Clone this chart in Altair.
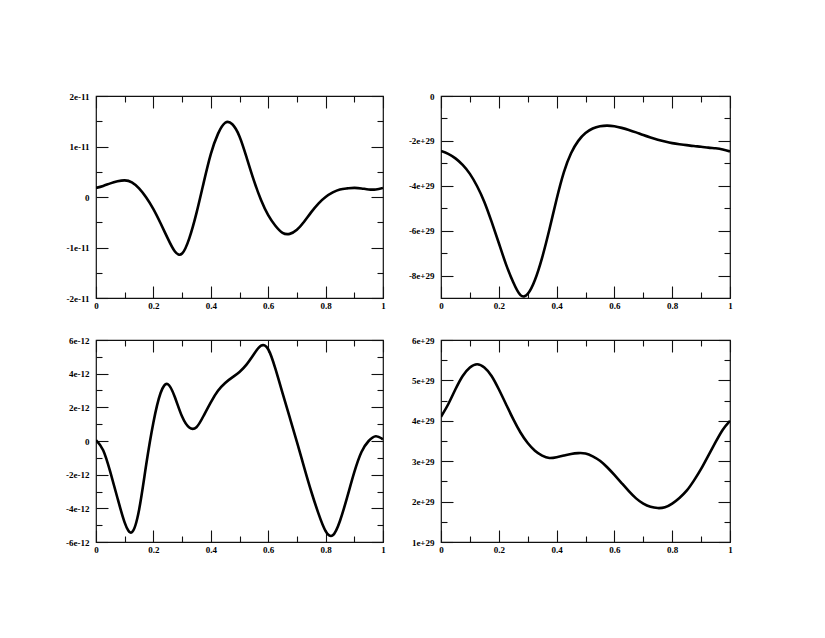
import altair as alt
import pandas as pd

# ---------------- data ----------------
# common x grid for all panels
xs = [0, 0.025, 0.05, 0.075, 0.1, 0.125, 0.15, 0.175, 0.2, 0.225, 0.25, 0.275, 0.3,
      0.325, 0.35, 0.375, 0.4, 0.425, 0.45, 0.475, 0.5, 0.525, 0.55, 0.575, 0.6,
      0.625, 0.65, 0.675, 0.7, 0.725, 0.75, 0.775, 0.8, 0.825, 0.85, 0.875, 0.9,
      0.925, 0.95, 0.975, 1.0]

# Top-left panel, y in units of 1e-11
tl_y = [0.18, 0.22, 0.27, 0.31, 0.33, 0.29, 0.17, -0.01, -0.24, -0.52, -0.82, -1.08, -1.12,
        -0.82, -0.32, 0.28, 0.85, 1.25, 1.47, 1.44, 1.2, 0.78, 0.33, -0.06, -0.36,
        -0.57, -0.71, -0.73, -0.65, -0.49, -0.30, -0.13, 0.0, 0.09, 0.15, 0.17, 0.18,
        0.17, 0.15, 0.15, 0.18]
tl_unit = 1e-11

# Top-right panel, y in units of 1e29
tr_y = [-2.45, -2.58, -2.78, -3.07, -3.47, -4.02, -4.72, -5.6, -6.55, -7.5, -8.3, -8.87, -8.82,
        -8.2, -7.2, -5.95, -4.6, -3.4, -2.55, -2.0, -1.65, -1.45, -1.35, -1.32, -1.35, -1.42,
        -1.51, -1.62, -1.74, -1.85, -1.95, -2.03, -2.10, -2.15, -2.19, -2.23, -2.26, -2.30, -2.33,
        -2.38, -2.47]
tr_unit = 1e29

# Bottom-left panel, y in units of 1e-12
bl_y = [0.05, -0.55, -1.85, -3.4, -4.85, -5.42, -4.1, -1.4, 1.1, 2.85, 3.38, 2.6,
        1.45, 0.8, 0.82, 1.5, 2.3, 2.98, 3.45, 3.78, 4.1, 4.55, 5.15, 5.66,
        5.45, 4.3, 2.85, 1.4, -0.05, -1.55, -3.0, -4.3, -5.35, -5.6, -4.75, -3.35,
        -1.85, -0.65, 0.0, 0.28, 0.1]
bl_unit = 1e-12

# Bottom-right panel, y in units of 1e29
br_y = [4.1, 4.41, 4.78, 5.11, 5.32, 5.4, 5.32, 5.11, 4.78, 4.41, 4.04, 3.71, 3.45, 3.26,
        3.14, 3.08, 3.1, 3.14, 3.18, 3.2, 3.19, 3.12, 3.01, 2.85, 2.66, 2.46, 2.26,
        2.08, 1.95, 1.87, 1.84, 1.86, 1.95, 2.09, 2.27, 2.52, 2.81, 3.14, 3.47, 3.78, 4.0]
br_unit = 1e29

# axis ticks
x_major = [0, 0.2, 0.4, 0.6, 0.8, 1]
x_minor = [0.1, 0.3, 0.5, 0.7, 0.9]

tl_dom = [-2e-11, 2e-11]
tl_major = [-2e-11, -1e-11, 0, 1e-11, 2e-11]
tl_minor = [-1.5e-11, -5e-12, 5e-12, 1.5e-11]

tr_dom = [-9e29, 0]
tr_major = [-8e29, -6e29, -4e29, -2e29, 0]
tr_minor = [-7e29, -5e29, -3e29, -1e29]

bl_dom = [-6e-12, 6e-12]
bl_major = [-6e-12, -4e-12, -2e-12, 0, 2e-12, 4e-12, 6e-12]
bl_minor = [-5e-12, -3e-12, -1e-12, 1e-12, 3e-12, 5e-12]

br_dom = [1e29, 6e29]
br_major = [1e29, 2e29, 3e29, 4e29, 5e29, 6e29]
br_minor = [1.5e29, 2.5e29, 3.5e29, 4.5e29, 5.5e29]

# ---------------- styling ----------------
FONT = "Liberation Serif"
MAJ = 12
MIN = 6


def axis(orient, values, size, labels, pad=3):
    kw = dict(orient=orient, values=values, tickSize=size, offset=-size, domain=False,
              grid=False, title=None, ticks=True, tickColor="#111", tickWidth=1.1,
              labels=labels)
    if labels:
        kw.update(labelFont=FONT, labelFontSize=9, labelFontWeight="bold", labelColor="black",
                  labelPadding=pad, labelFlush=False, labelOverlap=False, labelBound=False,
                  labelExpr="'' + datum.value")
    return alt.Axis(**kw)


def panel(xv, ys, unit, dom, y_major, y_minor, w, h):
    df = pd.DataFrame({"x": xv, "y": [v * unit for v in ys]})
    xsc = alt.Scale(domain=[0, 1], nice=False, zero=False)
    ysc = alt.Scale(domain=dom, nice=False, zero=False)
    base = alt.Chart(df)
    line = base.mark_line(color="black", strokeWidth=2.6, interpolate="natural", clip=True).encode(
        x=alt.X("x:Q", scale=xsc, axis=axis("bottom", x_major, MAJ, True, 3)),
        y=alt.Y("y:Q", scale=ysc, axis=axis("left", y_major, MAJ, True, 7)),
    )
    g1 = base.mark_line(opacity=0).encode(
        x=alt.X("x:Q", scale=xsc, axis=axis("bottom", x_minor, MIN, False)),
        y=alt.Y("y:Q", scale=ysc, axis=axis("left", y_minor, MIN, False)),
    )
    g2 = base.mark_line(opacity=0).encode(
        x=alt.X("x:Q", scale=xsc, axis=axis("top", x_major, MAJ, False)),
        y=alt.Y("y:Q", scale=ysc, axis=axis("right", y_major, MAJ, False)),
    )
    g3 = base.mark_line(opacity=0).encode(
        x=alt.X("x:Q", scale=xsc, axis=axis("top", x_minor, MIN, False)),
        y=alt.Y("y:Q", scale=ysc, axis=axis("right", y_minor, MIN, False)),
    )
    return (alt.layer(line, g1, g2, g3)
            .resolve_axis(x="independent", y="independent")
            .properties(width=w, height=h))


p_tl = panel(xs, tl_y, tl_unit, tl_dom, tl_major, tl_minor, 287, 202)
p_tr = panel(xs, tr_y, tr_unit, tr_dom, tr_major, tr_minor, 289, 202)
p_bl = panel(xs, bl_y, bl_unit, bl_dom, bl_major, bl_minor, 287, 202)
p_br = panel(xs, br_y, br_unit, br_dom, br_major, br_minor, 289, 202)

chart = (alt.concat(p_tl, p_tr, p_bl, p_br, columns=2,
                    spacing={"row": 42, "column": 58}, bounds="flush")
         .properties(padding={"left": 56, "top": 83, "right": 20, "bottom": 20},
                     background="white")
         .configure_view(stroke="#111", strokeWidth=1.2))

chart.save("out.html", embed_options={"renderer": "svg", "actions": False})
